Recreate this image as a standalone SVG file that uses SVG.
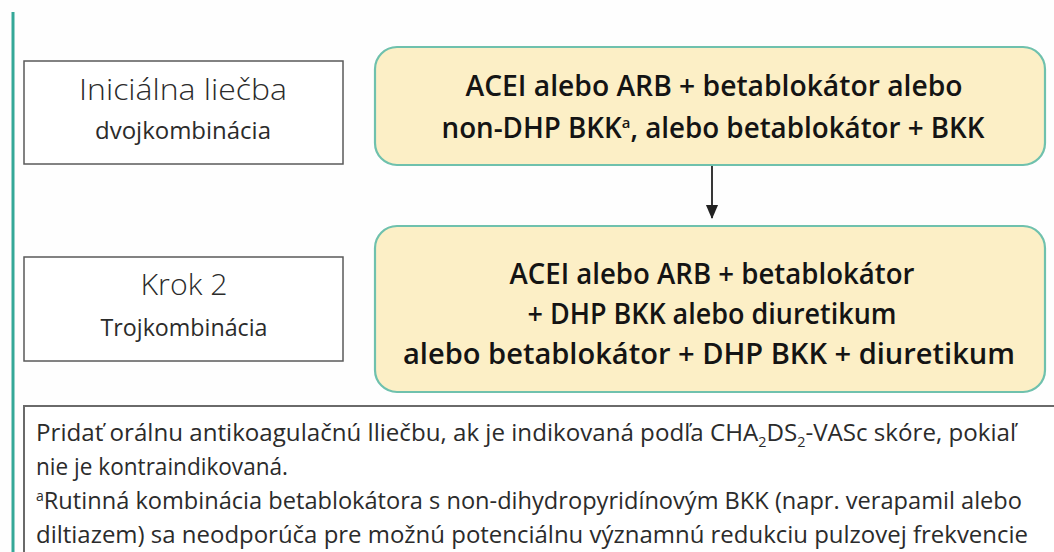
<svg xmlns="http://www.w3.org/2000/svg" width="1054" height="552" viewBox="0 0 1054 552">
  <defs>
    <style>
      .step { fill: #ffffff; stroke: #5a5a5a; stroke-width: 1.5; }
      .therapy { fill: #fcefc6; stroke: #6fc1ad; stroke-width: 2.2; }
      .note { fill: #ffffff; stroke: #6a6a6a; stroke-width: 2; }
      .title { font-family: "Open Sans", "Liberation Sans", sans-serif; font-size: 30px; font-weight: 300; fill: #2b2b2b; text-anchor: middle; }
      .sub { font-family: "Open Sans", "Liberation Sans", sans-serif; font-size: 23px; fill: #2b2b2b; text-anchor: middle; }
      .bold { font-family: "Open Sans", "Liberation Sans", sans-serif; font-size: 28px; font-weight: 600; fill: #141414; text-anchor: middle; }
      .body { font-family: "Open Sans", "Liberation Sans", sans-serif; font-size: 23.5px; fill: #2b2b2b; }
      .conn { stroke: #222; stroke-width: 1.8; fill: none; }
    </style>
    <marker id="arrow" markerWidth="14" markerHeight="16" refX="15" refY="7" orient="auto" markerUnits="userSpaceOnUse" viewBox="0 0 16 14">
      <path d="M0,0 L16,7 L0,14 Z" fill="#222"/>
    </marker>
  </defs>

  <rect width="1054" height="552" fill="#fefefe"/>

  <!-- side rule -->
  <line x1="13" y1="12" x2="13" y2="552" stroke="#35a898" stroke-width="3"/>

  <g id="step-initial">
    <rect class="step" x="24" y="61" width="319" height="103"/>
    <text class="title" x="183" y="100" textLength="208" lengthAdjust="spacingAndGlyphs">Iniciálna liečba</text>
    <text class="sub" x="183" y="139" textLength="176" lengthAdjust="spacingAndGlyphs">dvojkombinácia</text>
  </g>

  <g id="therapy-initial">
    <rect class="therapy" x="375" y="47" width="670" height="118" rx="22"/>
    <text class="bold" x="714" y="96" textLength="497" lengthAdjust="spacingAndGlyphs">ACEI alebo ARB + betablokátor alebo</text>
    <text class="bold" x="713" y="138" textLength="543" lengthAdjust="spacingAndGlyphs">non-DHP BKK<tspan font-size="15" dy="-10">a</tspan><tspan dy="10">, alebo betablokátor + BKK</tspan></text>
  </g>

  <g id="step-2">
    <rect class="step" x="24" y="257" width="319" height="104"/>
    <text class="title" x="184" y="295" textLength="87" lengthAdjust="spacingAndGlyphs">Krok 2</text>
    <text class="sub" x="184" y="336" textLength="167" lengthAdjust="spacingAndGlyphs">Trojkombinácia</text>
  </g>

  <g id="therapy-step-2">
    <rect class="therapy" x="375" y="226" width="670" height="166" rx="22"/>
    <text class="bold" x="712" y="284" textLength="405" lengthAdjust="spacingAndGlyphs">ACEI alebo ARB + betablokátor</text>
    <text class="bold" x="712" y="324" textLength="369" lengthAdjust="spacingAndGlyphs">+ DHP BKK alebo diuretikum</text>
    <text class="bold" x="709" y="364" textLength="612" lengthAdjust="spacingAndGlyphs">alebo betablokátor + DHP BKK + diuretikum</text>
  </g>

  <g id="connectors">
    <line class="conn" x1="712" y1="166" x2="712" y2="218" marker-end="url(#arrow)"/>
  </g>

  <g id="notes">
    <rect class="note" x="24" y="406" width="1040" height="160"/>
    <text class="body" x="36" y="441" textLength="980" lengthAdjust="spacingAndGlyphs">Pridať orálnu antikoagulačnú lliečbu, ak je indikovaná podľa CHA<tspan font-size="14" dy="6">2</tspan><tspan dy="-6">DS</tspan><tspan font-size="14" dy="6">2</tspan><tspan dy="-6">-VASc skóre, pokiaľ</tspan></text>
    <text class="body" x="36" y="475" textLength="252" lengthAdjust="spacingAndGlyphs">nie je kontraindikovaná.</text>
    <text class="body" x="36" y="509" textLength="986" lengthAdjust="spacingAndGlyphs"><tspan font-size="14" dy="-8">a</tspan><tspan dy="8">Rutinná kombinácia betablokátora s non-dihydropyridínovým BKK (napr. verapamil alebo</tspan></text>
    <text class="body" x="36" y="543" textLength="992" lengthAdjust="spacingAndGlyphs">diltiazem) sa neodporúča pre možnú potenciálnu významnú redukciu pulzovej frekvencie</text>
  </g>
</svg>
